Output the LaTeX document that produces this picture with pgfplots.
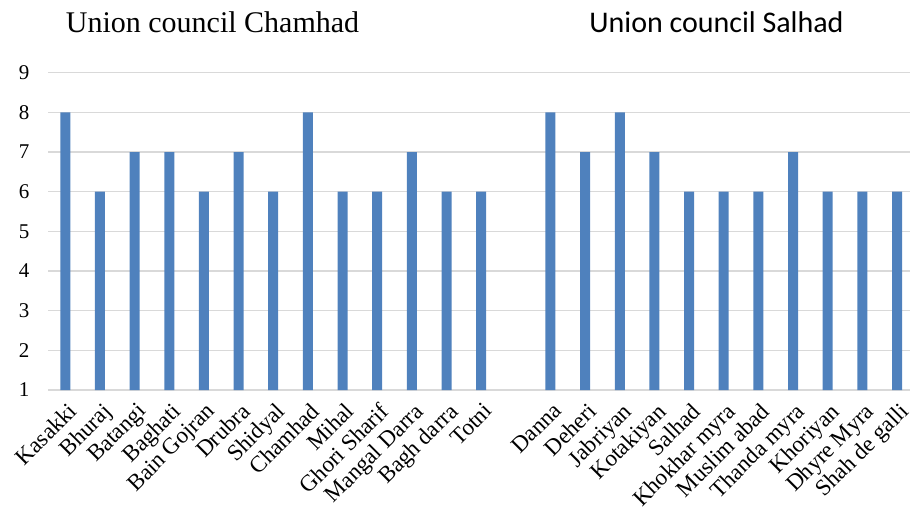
\documentclass[border=0pt]{standalone}
\usepackage{fontspec}
\setmainfont{Liberation Serif}
\newfontfamily\calibri{Carlito}
\usepackage{pgfplots}
\usepackage{pgfplotstable}
\pgfplotsset{compat=1.18}
\definecolor{barblue}{RGB}{79,129,189}
\definecolor{gridgray}{RGB}{217,217,217}
\pgfplotstableread{
x y
0 8
1 6
2 7
3 7
4 6
5 7
6 6
7 8
8 6
9 6
10 7
11 6
12 6
14 8
15 7
16 8
17 7
18 6
19 6
20 6
21 7
22 6
23 6
24 6
}\villages
\begin{document}
\begin{tikzpicture}[x=1pt,y=1pt]
\useasboundingbox (0,0) rectangle (910,514);
\begin{axis}[
  at={(48pt,124pt)}, anchor=south west,
  scale only axis, width=862pt, height=317.3pt,
  xmin=-0.5, xmax=24.375, ymin=1, ymax=9,
  ytick={1,...,9},
  xtick={0,1,2,3,4,5,6,7,8,9,10,11,12,14,15,16,17,18,19,20,21,22,23,24},
  xticklabels={Kasakki,Bhuraj,Batangi,Baghati,Bain Gojran,Drubra,Shidyal,Chamhad,Mihal,Ghori Sharif,Mangal Darra,Bagh darra,Totni,Danna,Deheri,Jabriyan,Kotakiyan,Salhad,Khokhar myra,Muslim abad,Thanda myra,Khoriyan,Dhyre Myra,Shah de galli},
  xticklabel style={rotate=45, anchor=north east, font=\fontsize{23}{23}\selectfont, inner sep=1pt, xshift=-3pt, yshift=-5pt},
  yticklabel style={font=\fontsize{21}{21}\selectfont, xshift=-15pt},
  /pgf/number format/assume math mode=true,
  axis line style={draw=none},
  major tick style={draw=none},
  ymajorgrids,
  major grid style={draw=gridgray, line width=1.3pt},
  ybar, bar width=10pt,
  clip=false,
]
\addplot[fill=barblue, draw=none] table[x=x,y=y] {\villages};
\end{axis}
\node[anchor=base, font=\fontsize{30}{30}\selectfont] at (212.5,481) {Union council Chamhad};
\node[anchor=base, font=\calibri\fontsize{30}{30}\selectfont] at (716.5,481) {Union council Salhad};
\end{tikzpicture}
\end{document}
